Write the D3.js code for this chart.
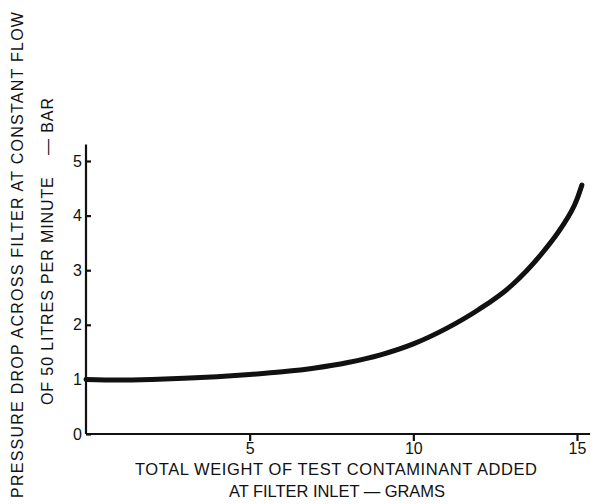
<!DOCTYPE html>
<html>
<head>
<meta charset="utf-8">
<script src="https://cdn.jsdelivr.net/npm/d3@7"></script>
<style>
  body { margin: 0; background: #fff; }
  svg text { font-family: "Liberation Sans", Arial, sans-serif; fill: #111; white-space: pre; }
</style>
</head>
<body>
<svg width="591" height="504"></svg>
<script>
// values
var weight = [0, 1, 2, 3, 4, 5, 6, 7, 8, 9, 10, 11, 12, 13, 14, 14.5, 15, 15.15];
var pressure = [1.0, 0.99, 1.0, 1.02, 1.05, 1.09, 1.14, 1.21, 1.31, 1.45, 1.65, 1.93, 2.28, 2.72, 3.36, 3.76, 4.3, 4.56];
var xTicks = [5, 10, 15];
var yTicks = [0, 1, 2, 3, 4, 5];
var yTitle = ["PRESSURE DROP ACROSS FILTER AT CONSTANT FLOW", "OF 50 LITRES PER MINUTE    \u2014 BAR"];
var xTitle = ["TOTAL WEIGHT OF TEST CONTAMINANT ADDED", "AT FILTER INLET \u2014 GRAMS"];

var svg = d3.select("svg");

var x = d3.scaleLinear().domain([0, 15]).range([86, 577]);
var y = d3.scaleLinear().domain([0, 5]).range([434, 161]);

// x axis
var xAxis = svg.append("g")
  .attr("transform", "translate(0," + y(0) + ")")
  .call(d3.axisBottom(x).tickValues(xTicks).tickSize(7).tickSizeOuter(0).tickPadding(2));
xAxis.select(".domain").attr("d", "M" + x(0) + ",0H" + x(15.4));

// y axis, ticks point inward
var yAxis = svg.append("g")
  .attr("transform", "translate(" + x(0) + ",0)")
  .call(d3.axisLeft(y).tickValues(yTicks).tickFormat(d3.format("d")).tickSize(-5).tickSizeOuter(0).tickPadding(4));
yAxis.select(".domain").attr("d", "M0," + y(0) + "V" + y(5.3));

svg.selectAll(".domain").attr("stroke", "#111").attr("stroke-width", 2.2);
svg.selectAll(".tick line").attr("stroke", "#111").attr("stroke-width", 2.2);
svg.selectAll(".tick text").attr("font-size", 16).attr("fill", "#111");

// curve
var line = d3.line()
  .x(function (d, i) { return x(weight[i]); })
  .y(function (d) { return y(d); })
  .curve(d3.curveMonotoneX);

svg.append("path")
  .datum(pressure)
  .attr("d", line)
  .attr("fill", "none")
  .attr("stroke", "#111")
  .attr("stroke-width", 5)
  .attr("stroke-linecap", "round");

// axis titles
svg.append("text")
  .attr("transform", "translate(23,498) rotate(-90)")
  .attr("font-size", 16)
  .attr("textLength", 486)
  .attr("lengthAdjust", "spacing")
  .text(yTitle[0]);

svg.append("text")
  .attr("transform", "translate(53,405) rotate(-90)")
  .attr("font-size", 16)
  .attr("textLength", 307)
  .attr("lengthAdjust", "spacing")
  .text(yTitle[1]);

svg.append("text")
  .attr("x", 336).attr("y", 475)
  .attr("text-anchor", "middle")
  .attr("font-size", 16.5)
  .attr("textLength", 402)
  .attr("lengthAdjust", "spacing")
  .text(xTitle[0]);

svg.append("text")
  .attr("x", 337).attr("y", 497)
  .attr("text-anchor", "middle")
  .attr("font-size", 16.5)
  .attr("textLength", 216)
  .attr("lengthAdjust", "spacing")
  .text(xTitle[1]);
</script>
</body>
</html>
